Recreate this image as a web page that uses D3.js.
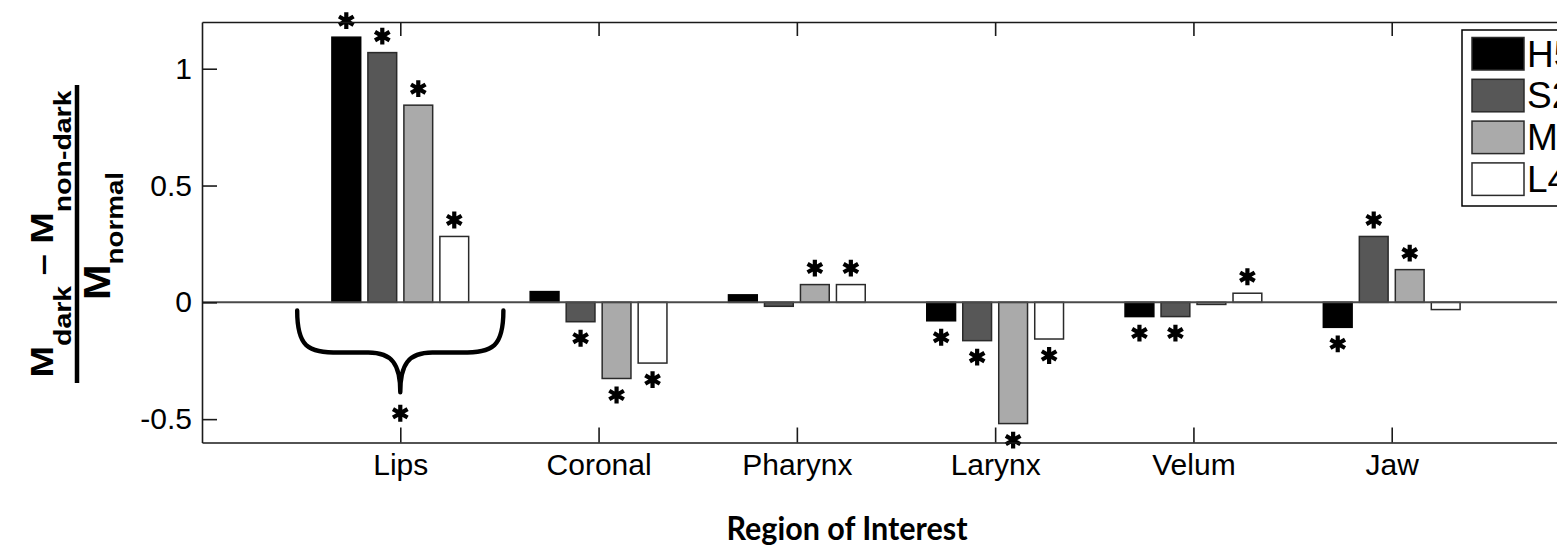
<!DOCTYPE html>
<html>
<head>
<meta charset="utf-8">
<script src="https://cdn.jsdelivr.net/npm/d3@7"></script>
<style>
  body { margin: 0; background: #fff; }
  svg { display: block; font-family: "Liberation Sans", Arial, sans-serif; }
</style>
</head>
<body>
<div id="chart"></div>
<script>
// regions on the x axis
var regions = ["Lips", "Coronal", "Pharynx", "Larynx", "Velum", "Jaw"];
// speakers (legend entries)
var speakers = ["H5", "S2", "M1", "L4"];

// (M_dark - M_non-dark) / M_normal, one array per speaker, in region order
var valuesH5 = [1.135, 0.046, 0.032, -0.079, -0.061, -0.107];
var valuesS2 = [1.069, -0.083, -0.017, -0.164, -0.061, 0.282];
var valuesM1 = [0.844, -0.326, 0.076, -0.519, -0.009, 0.140];
var valuesL4 = [0.282, -0.260, 0.076, -0.157, 0.039, -0.031];

// 1 = significant (asterisk drawn)
var sigH5 = [1, 0, 0, 1, 1, 1];
var sigS2 = [1, 1, 0, 1, 1, 1];
var sigM1 = [1, 1, 1, 1, 0, 1];
var sigL4 = [1, 1, 1, 1, 1, 0];

var yTicks = [-0.5, 0, 0.5, 1];

var allValues = [valuesH5, valuesS2, valuesM1, valuesL4];
var allSig = [sigH5, sigS2, sigM1, sigL4];
var fills = ["#000000", "#575757", "#aaaaaa", "#ffffff"];

var width = 1557, height = 546;

var svg = d3.select("#chart").append("svg")
    .attr("width", width)
    .attr("height", height);

// matlab style axes: x runs 0..7, y -0.6..1.2
var x = d3.scaleLinear().domain([0, 7]).range([202, 1590]);
var y = d3.scaleLinear().domain([-0.6, 1.2]).range([442.5, 22]);

var unit = x(1) - x(0);
var sub = d3.scaleBand()
    .domain(speakers)
    .range([-0.363 * unit, 0.363 * unit])
    .paddingInner(0.2)
    .paddingOuter(0.1);

// bars
var rows = [];
speakers.forEach(function (s, j) {
    regions.forEach(function (r, i) {
        rows.push({ speaker: s, k: j, region: i + 1, value: allValues[j][i], sig: allSig[j][i] });
    });
});

svg.append("g").selectAll("rect")
    .data(rows)
    .enter()
    .append("rect")
    .attr("x", function (d) { return x(d.region) + sub(d.speaker); })
    .attr("width", sub.bandwidth())
    .attr("y", function (d) { return y(Math.max(0, d.value)); })
    .attr("height", function (d) { return Math.abs(y(d.value) - y(0)); })
    .attr("fill", function (d) { return fills[d.k]; })
    .attr("stroke", function (d) { return d.k === 0 ? "#000" : "#2a2a2a"; })
    .attr("stroke-width", 1.5);

// zero baseline
svg.append("line")
    .attr("x1", x(0)).attr("x2", x(7))
    .attr("y1", y(0)).attr("y2", y(0))
    .attr("stroke", "#4a4a4a")
    .attr("stroke-width", 2);

// asterisks above / below significant bars
var star = d3.symbol().type(d3.symbolAsterisk).size(200);
svg.append("g").selectAll("path")
    .data(rows.filter(function (d) { return d.sig === 1; }))
    .enter()
    .append("path")
    .attr("d", star)
    .attr("transform", function (d) {
        var cx = x(d.region) + sub(d.speaker) + sub.bandwidth() / 2;
        var cy = d.value >= 0 ? y(d.value) - 16.5 : y(d.value) + 16.5;
        return "translate(" + cx + "," + cy + ")";
    })
    .attr("fill", "none")
    .attr("stroke", "#000")
    .attr("stroke-width", 4.2);

// curly brace under the Lips group
var xl = x(1 - 0.52), xr = x(1 + 0.52), xc = x(1);
var yt = y(-0.035), ym = y(-0.215), ytip = y(-0.385);
var brace = d3.path();
brace.moveTo(xl, yt);
brace.bezierCurveTo(xl, ym - 6, xl + 10, ym, xl + 42, ym);
brace.lineTo(xc - 32, ym);
brace.bezierCurveTo(xc - 8, ym, xc, ym + 12, xc, ytip);
brace.moveTo(xc, ytip);
brace.bezierCurveTo(xc, ym + 12, xc + 8, ym, xc + 32, ym);
brace.lineTo(xr - 42, ym);
brace.bezierCurveTo(xr - 10, ym, xr, ym - 6, xr, yt);
svg.append("path")
    .attr("d", brace.toString())
    .attr("fill", "none")
    .attr("stroke", "#000")
    .attr("stroke-width", 4.4)
    .attr("stroke-linecap", "round");
svg.append("path")
    .attr("d", star)
    .attr("transform", "translate(" + xc + "," + (ytip + 21) + ")")
    .attr("fill", "none")
    .attr("stroke", "#000")
    .attr("stroke-width", 4.2);

// axes, ticks pointing inwards
var yAxis = svg.append("g")
    .attr("transform", "translate(" + x(0) + ",0)")
    .call(d3.axisLeft(y).tickValues(yTicks).tickSize(-15).tickSizeOuter(0).tickPadding(10)
        .tickFormat(function (d) { return String(d); }));

var xAxis = svg.append("g")
    .attr("transform", "translate(0," + y(-0.6) + ")")
    .call(d3.axisBottom(x).tickValues([1, 2, 3, 4, 5, 6]).tickSize(-15).tickSizeOuter(0).tickPadding(11)
        .tickFormat(function (d) { return regions[d - 1]; }));

var topAxis = svg.append("g")
    .attr("transform", "translate(0," + y(1.2) + ")")
    .call(d3.axisTop(x).tickValues([1, 2, 3, 4, 5, 6]).tickSize(-14).tickSizeOuter(0).tickFormat(""));

[yAxis, xAxis, topAxis].forEach(function (a) {
    a.attr("color", "#1a1a1a")
        .attr("font-size", 30)
        .attr("font-family", "'Liberation Sans', Arial, sans-serif");
    a.selectAll("path, line").attr("stroke-width", 1.6);
    a.selectAll("text").attr("fill", "#000");
});

// legend (runs off the right edge like the original)
var legend = svg.append("g");
legend.append("rect")
    .attr("x", 1462).attr("y", 30)
    .attr("width", 200).attr("height", 176)
    .attr("fill", "#fff")
    .attr("stroke", "#000")
    .attr("stroke-width", 1.5);
speakers.forEach(function (s, j) {
    var top = 37.5 + j * 41.8;
    legend.append("rect")
        .attr("x", 1472).attr("y", top)
        .attr("width", 52).attr("height", 32.5)
        .attr("fill", fills[j])
        .attr("stroke", "#2a2a2a")
        .attr("stroke-width", 1.5);
    legend.append("text")
        .attr("x", 1527).attr("y", top + 16 + 13)
        .attr("font-size", 37)
        .text(s);
});

// y label: fraction, rotated
var ylab = svg.append("g")
    .attr("transform", "translate(0,234) rotate(-90)");
var num = ylab.append("text")
    .attr("x", 0).attr("y", 53)
    .attr("text-anchor", "middle")
    .attr("font-weight", "bold")
    .attr("textLength", 287)
    .attr("lengthAdjust", "spacingAndGlyphs");
num.append("tspan").attr("font-size", 32).text("M");
num.append("tspan").attr("font-size", 24).attr("dy", 18).text("dark");
num.append("tspan").attr("font-size", 32).attr("dy", -18).text(" \u2013 ");
num.append("tspan").attr("font-size", 32).text("M");
num.append("tspan").attr("font-size", 24).attr("dy", 18).text("non-dark");

ylab.append("line")
    .attr("x1", -149).attr("x2", 149)
    .attr("y1", 77).attr("y2", 77)
    .attr("stroke", "#000")
    .attr("stroke-width", 4.5);

var den = ylab.append("text")
    .attr("x", -2).attr("y", 110)
    .attr("text-anchor", "middle")
    .attr("font-weight", "bold")
    .attr("textLength", 128)
    .attr("lengthAdjust", "spacingAndGlyphs");
den.append("tspan").attr("font-size", 37).text("M");
den.append("tspan").attr("font-size", 24).attr("dy", 13).text("normal");

// x label
svg.append("text")
    .attr("x", 847).attr("y", 540)
    .attr("text-anchor", "middle")
    .attr("font-family", "Lato, 'Open Sans', sans-serif")
    .attr("font-weight", "bold")
    .attr("font-size", 32)
    .attr("textLength", 241)
    .attr("lengthAdjust", "spacingAndGlyphs")
    .text("Region of Interest");
</script>
</body>
</html>
